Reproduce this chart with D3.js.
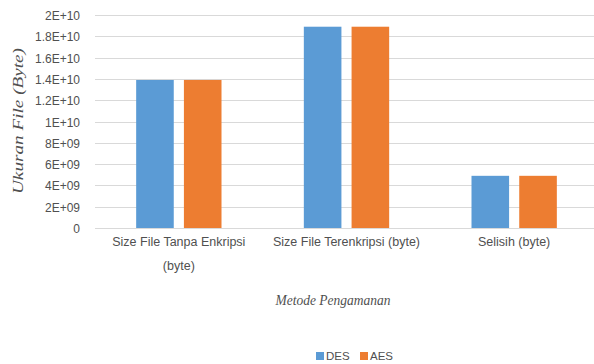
<!DOCTYPE html>
<html>
<head>
<meta charset="utf-8">
<script src="https://cdn.jsdelivr.net/npm/d3@7"></script>
<style>
  html, body { margin: 0; padding: 0; background: #ffffff; }
  svg { display: block; }
</style>
</head>
<body>
<svg id="chart" width="594" height="364"></svg>
<script>
// Ukuran file per metode pengamanan (byte)
const categories = ["Size File Tanpa Enkripsi (byte)", "Size File Terenkripsi (byte)", "Selisih (byte)"];
const categoryLines = [["Size File Tanpa Enkripsi", "(byte)"], ["Size File Terenkripsi (byte)"], ["Selisih (byte)"]];
const seriesNames = ["DES", "AES"];
const desValues = [1.39e10, 1.89e10, 4.9e9];
const aesValues = [1.39e10, 1.89e10, 4.9e9];
const yTicks = [0, 2e9, 4e9, 6e9, 8e9, 1e10, 1.2e10, 1.4e10, 1.6e10, 1.8e10, 2e10];
const yTickLabels = ["0", "2E+09", "4E+09", "6E+09", "8E+09", "1E+10", "1.2E+10", "1.4E+10", "1.6E+10", "1.8E+10", "2E+10"];
const colors = ["#5B9BD5", "#ED7D31"];

const svg = d3.select("#chart");
const plot = { left: 95, right: 598, top: 15, bottom: 228 };
const sans = "'Liberation Sans', Arial, sans-serif";
const serif = "'Liberation Serif', 'Times New Roman', serif";
const textColor = "#505050";

const x = d3.scaleBand().domain(categories).range([plot.left, plot.right]).paddingInner(0).paddingOuter(0);
const y = d3.scaleLinear().domain([0, 2e10]).range([plot.bottom, plot.top]);

// bar geometry: two bars, small gap between them, wide gap around the group
const unit = x.bandwidth() / 4.46;
const barW = unit;
const innerGap = 0.27 * unit;
const sub = d3.scaleOrdinal().domain(seriesNames).range([0, barW + innerGap]);

// gridlines
svg.append("g")
  .selectAll("line")
  .data(yTicks)
  .join("line")
  .attr("x1", plot.left).attr("x2", plot.right)
  .attr("y1", d => Math.round(y(d)) + 0.5).attr("y2", d => Math.round(y(d)) + 0.5)
  .attr("stroke", "#d9d9d9").attr("stroke-width", 1);

// y axis labels
const yAxis = d3.axisLeft(y).tickValues(yTicks).tickFormat((d, i) => yTickLabels[i]).tickSize(0).tickPadding(0);
const gy = svg.append("g").attr("transform", `translate(80,0)`).call(yAxis);
gy.select(".domain").remove();
gy.selectAll("text").attr("font-family", sans).attr("font-size", 12).attr("fill", textColor).attr("dy", "0.38em");

// bars
const series = seriesNames.map((name, s) => ({ name, values: s === 0 ? desValues : aesValues }));
svg.append("g")
  .selectAll("g")
  .data(series)
  .join("g")
  .attr("fill", (d, i) => colors[i])
  .selectAll("rect")
  .data(d => d.values.map((v, i) => ({ name: d.name, cat: categories[i], v })))
  .join("rect")
  .attr("x", d => x(d.cat) + (x.bandwidth() - (2 * barW + innerGap)) / 2 + sub(d.name))
  .attr("width", barW)
  .attr("y", d => y(d.v))
  .attr("height", d => y(0) - y(d.v));

// category labels
const gx = svg.append("g");
categories.forEach((c, i) => {
  const cx = x(c) + x.bandwidth() / 2;
  const t = gx.append("text")
    .attr("x", cx)
    .attr("y", 246)
    .attr("text-anchor", "middle")
    .attr("font-family", sans).attr("font-size", 12.5).attr("fill", textColor);
  categoryLines[i].forEach((line, j) => {
    t.append("tspan").attr("x", cx).attr("dy", j === 0 ? 0 : 24).text(line);
  });
});

// axis titles
svg.append("text")
  .attr("transform", "translate(333,305) scale(1,1.15)")
  .attr("text-anchor", "middle")
  .attr("font-family", serif).attr("font-style", "italic").attr("font-size", 13.5).attr("fill", textColor)
  .text("Metode Pengamanan");

svg.append("text")
  .attr("transform", "translate(23,121) rotate(-90) scale(1.28,1)")
  .attr("text-anchor", "middle")
  .attr("font-family", serif).attr("font-style", "italic").attr("font-size", 15).attr("fill", textColor)
  .text("Ukuran File (Byte)");

// legend
const legend = svg.append("g");
const legendItems = [{ name: "DES", x: 316 }, { name: "AES", x: 360 }];
legendItems.forEach((d, i) => {
  legend.append("rect").attr("x", d.x).attr("y", 352).attr("width", 8).attr("height", 8).attr("fill", colors[i]);
  legend.append("text").attr("x", d.x + 10).attr("y", 360)
    .attr("font-family", sans).attr("font-size", 11.5).attr("fill", textColor).text(d.name);
});
</script>
</body>
</html>
